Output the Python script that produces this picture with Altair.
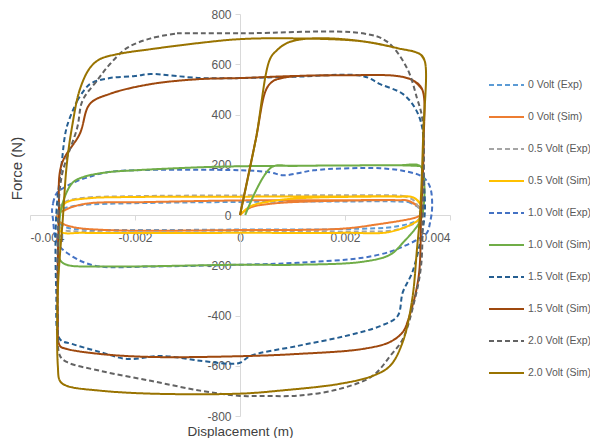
import altair as alt
import pandas as pd

series_names = ["0 Volt (Exp)", "0 Volt (Sim)", "0.5 Volt (Exp)", "0.5 Volt (Sim)",
                "1.0 Volt (Exp)", "1.0 Volt (Sim)", "1.5 Volt (Exp)", "1.5 Volt (Sim)",
                "2.0 Volt (Exp)", "2.0 Volt (Sim)"]
series_colors = ["#5B9BD5", "#ED7D31", "#A5A5A5", "#FFC000", "#4472C4",
                 "#70AD47", "#255E91", "#9E480E", "#636363", "#997300"]

# 0 Volt (Exp)
d_0e = [0.0032, 0.0034, 0.00348, 0.0034, 0.003, 0.002, 0.0, -0.002, -0.003, -0.0033, -0.00345,
        -0.0035, -0.00345, -0.0033, -0.003, -0.002, 0.0, 0.002, 0.003, 0.0032]
f_0e = [52, 30, 0, -20, -45, -56, -58, -60, -58, -50, -30,
        0, 20, 30, 40, 47, 52, 54, 54, 52]
# 0 Volt (Sim)
d_0s = [0.0, 0.0002, 0.0006, 0.0012, 0.002, 0.003, 0.0032, 0.00343, 0.00347, 0.00337, 0.00253,
        0.0019, 0.0, -0.00253, -0.0032, -0.00343, -0.00349, -0.00345, -0.00333, -0.0032, -0.00286,
        -0.0019, 0.0, 0.002, 0.003, 0.0032, 0.00343]
f_0s = [0, 30, 45, 53, 57, 59, 57, 28, 5, -8, -40,
        -55, -60, -60, -47, -28, -8, 8, 20, 32, 47,
        51, 58, 59, 59, 57, 28]
# 0.5 Volt (Exp)
d_05e = [0.0031, 0.0033, 0.00343, 0.0034, 0.003, 0.002, 0.0, -0.002, -0.003, -0.0034, -0.00348,
         -0.00345, -0.0033, -0.003, -0.002, 0.0, 0.002, 0.003, 0.0031]
f_05e = [76, 60, 10, -20, -58, -66, -68, -68, -66, -55, -10,
         30, 55, 68, 75, 78, 79, 78, 76]
# 0.5 Volt (Sim)
d_05s = [0.0, 0.0002, 0.0006, 0.001, 0.0015, 0.002, 0.003, 0.0033, 0.00345, 0.00348, 0.0034,
         0.00286, 0.002, 0.0, -0.002, -0.003, -0.0034, -0.00345, -0.00343, -0.0033, -0.00286,
         -0.0023, 0.0, 0.002, 0.003, 0.0033, 0.00345]
f_05s = [0, 35, 55, 65, 70, 72, 73, 70, 40, 5, -20,
         -67, -71, -71, -72, -71, -68, -40, 20, 51, 67,
         71, 73, 74, 74, 70, 40]
# 1.0 Volt (Exp)
d_10e = [-0.00356, -0.00349, -0.0032, -0.0029, -0.00253, -0.002, 0.0, 0.00057, 0.00082, 0.0011,
         0.0014, 0.00267, 0.00324, 0.00349, 0.00362, 0.00366, 0.00362, 0.00356, 0.00337, 0.0031,
         0.00286, 0.00234, 0.0011, 0.0, -0.0017, -0.00267, -0.003, -0.0033, -0.00343, -0.00352,
         -0.00356, -0.00358, -0.00356]
f_10e = [47, 87, 126, 150, 170, 178, 178, 170, 158, 166,
         178, 186, 170, 150, 111, 32, -30, -71, -99, -126,
         -146, -170, -190, -198, -205, -205, -186, -150, -126, -87,
         -20, 20, 47]
# 1.0 Volt (Sim)
d_10s = [0.0001, 0.0006, 0.001, 0.002, 0.003, 0.00343, 0.0035, 0.0035, 0.00343, 0.0031,
         0.00286, 0.00234, 0.0011, 0.0, -0.00267, -0.0033, -0.00343, -0.00345, -0.0034, -0.0032,
         -0.003, -0.00253, -0.002, -0.00076, 0.0, 0.001, 0.002, 0.003, 0.00343]
f_10s = [0, 190, 195, 197, 198, 195, 150, 40, -25, -111,
         -158, -186, -198, -198, -205, -198, -178, -100, 30, 126,
         150, 170, 178, 190, 194, 196, 197, 198, 195]
# 1.5 Volt (Exp)
d_15e = [-0.0031, -0.00286, -0.00248, -0.002, -0.0017, -0.00076, 0.0, 0.001, 0.00234, 0.00267,
         0.0031, 0.00333, 0.00347, 0.0035, 0.00352, 0.00343, 0.00328, 0.0031, 0.003, 0.00267,
         0.002, 0.0011, 0.0002, 0.0, -0.0002, -0.00076, -0.0015, -0.00215, -0.00267, -0.0032,
         -0.00343, -0.0035, -0.0035, -0.0034, -0.0033, -0.0031]
f_15e = [455, 521, 545, 553, 561, 545, 545, 550, 553, 521,
         482, 427, 348, 150, 8, -111, -229, -308, -403, -442,
         -482, -521, -561, -588, -592, -580, -561, -573, -545, -513,
         -494, -300, 0, 200, 350, 455]
# 1.5 Volt (Sim)
d_15s = [0.0, 0.0003, 0.0005, 0.00063, 0.0008, 0.0011, 0.002, 0.003, 0.0033, 0.00347,
         0.0035, 0.00345, 0.0034, 0.0032, 0.0031, 0.00286, 0.00234, 0.0011, 0.0, -0.0017,
         -0.00267, -0.0033, -0.00343, -0.00347, -0.00345, -0.0034, -0.00305, -0.00286, -0.00248,
         -0.0017, -0.00076, 0.0, 0.001, 0.002, 0.003, 0.0033, 0.00347]
f_15s = [0, 300, 500, 533, 545, 553, 556, 553, 535, 500,
         300, 0, -250, -420, -466, -505, -533, -553, -562, -565,
         -553, -533, -521, -400, 0, 200, 324, 442, 482,
         521, 541, 545, 553, 556, 553, 535, 500]
# 2.0 Volt (Exp)
d_20e = [-0.0012, 0.0, 0.00234, 0.0028, 0.00318, 0.00337, 0.00347, 0.0035, 0.00348, 0.00345,
         0.00333, 0.0031, 0.00286, 0.00253, 0.0019, 0.0011, 0.0004, 0.0, -0.00076, -0.0017,
         -0.00267, -0.0033, -0.00343, -0.00347, -0.00347, -0.0034, -0.0031, -0.003, -0.00273,
         -0.00248, -0.00215, -0.0017, -0.0012]
f_20e = [723, 723, 723, 690, 585, 466, 387, 200, 0, -200,
         -336, -494, -561, -640, -692, -719, -720, -720, -699, -660,
         -620, -585, -560, -400, -100, 150, 348, 455, 533,
         600, 665, 703, 723]
# 2.0 Volt (Sim)
d_20s = [0.0, 0.0003, 0.00057, 0.0007, 0.0009, 0.0012, 0.0017, 0.00234, 0.003, 0.00343,
         0.00352, 0.00349, 0.00343, 0.00337, 0.00328, 0.0031, 0.00286, 0.00253, 0.0019, 0.00076,
         0.0, -0.0017, -0.00267, -0.0033, -0.00343, -0.00347, -0.00347, -0.00337, -0.0033, -0.0032,
         -0.00305, -0.00286, -0.00267, -0.00234, -0.0017, -0.0008, 0.0, 0.001, 0.00234, 0.003,
         0.00343, 0.00352]
f_20s = [0, 300, 620, 655, 685, 700, 703, 691, 664, 640,
         612, 324, 8, -138, -336, -505, -600, -640, -672, -699,
         -711, -711, -699, -680, -660, -600, -300, 0, 200, 350,
         500, 585, 620, 640, 660, 684, 700, 703, 691, 664,
         640, 612]

all_d = [d_0e, d_0s, d_05e, d_05s, d_10e, d_10s, d_15e, d_15s, d_20e, d_20s]
all_f = [f_0e, f_0s, f_05e, f_05s, f_10e, f_10s, f_15e, f_15s, f_20e, f_20s]

rows = []
for name, ds, fs in zip(series_names, all_d, all_f):
    for i, (d, f) in enumerate(zip(ds, fs)):
        rows.append({"series": name, "idx": i, "disp": d, "force": f})
df = pd.DataFrame(rows)

dashes = [[5, 3] if "Exp" in n else [1, 0] for n in series_names]

font = "Liberation Sans"
W, H = 420, 402

legend_kw = dict(title=None, orient="none", legendX=458, legendY=57,
                 symbolType="stroke", symbolSize=1225, symbolStrokeWidth=2,
                 labelFont=font, labelFontSize=10.5, labelColor="#595959",
                 labelOffset=3, clipHeight=28, rowPadding=4, padding=0)

chart = alt.Chart(df).mark_line(strokeWidth=2, interpolate="catmull-rom").encode(
    x=alt.X("disp:Q",
            scale=alt.Scale(domain=[-0.004, 0.004], nice=False, zero=False),
            axis=alt.Axis(values=[-0.004, -0.002, 0, 0.002, 0.004],
                          labelExpr="datum.value == 0 ? '0' : (datum.value < 0 ? '-' : '') + format(abs(datum.value), '.3f')",
                          offset=-H / 2, grid=False, domainColor="#d9d9d9", tickColor="#d9d9d9",
                          tickSize=5, labelPadding=12, labelFont=font, labelFontSize=12,
                          labelColor="#595959", title="Displacement (m)", titleFont=font,
                          titleFontSize=13.5, titleFontWeight="normal", titleColor="#404040",
                          titleX=W / 2, titleY=216.5, titleBaseline="middle")),
    y=alt.Y("force:Q",
            scale=alt.Scale(domain=[-800, 800], nice=False),
            axis=alt.Axis(values=[-800, -600, -400, -200, 0, 200, 400, 600, 800],
                          labelExpr="(datum.value < 0 ? '-' : '') + format(abs(datum.value), 'd')",
                          offset=-W / 2, grid=False, domainColor="#d9d9d9", tickColor="#d9d9d9",
                          tickSize=5, labelPadding=4, labelFont=font, labelFontSize=12,
                          labelColor="#595959", title="Force (N)", titleFont=font,
                          titleFontSize=15, titleFontWeight="normal", titleColor="#404040",
                          titleX=-224, titleY=154, titleBaseline="middle", titleAngle=-90)),
    color=alt.Color("series:N",
                    scale=alt.Scale(domain=series_names, range=series_colors),
                    legend=alt.Legend(**legend_kw)),
    strokeDash=alt.StrokeDash("series:N",
                              scale=alt.Scale(domain=series_names, range=dashes),
                              legend=alt.Legend(**legend_kw)),
    order="idx:Q",
).properties(
    width=W, height=H,
    autosize=alt.AutoSizeParams(type="none"),
    padding={"left": 22, "top": 6, "right": 140, "bottom": 22},
).configure_view(stroke=None)

chart.save("out.html", embed_options={"renderer": "svg", "actions": False})
